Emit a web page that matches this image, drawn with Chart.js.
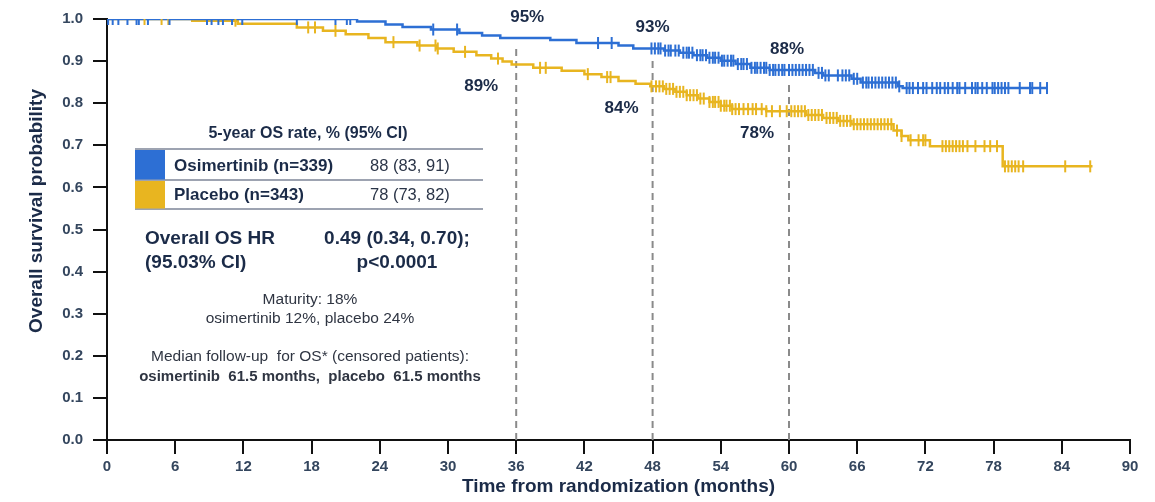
<!DOCTYPE html>
<html>
<head>
<meta charset="utf-8">
<script src="https://cdn.jsdelivr.net/npm/chart.js@4.4.1/dist/chart.umd.min.js"></script>
<style>
  html, body { margin: 0; padding: 0; background: #fff; }
  #wrap { width: 1155px; height: 502px; position: relative; }
</style>
</head>
<body>
<div id="wrap"><canvas id="km"></canvas></div>
<script>
// Kaplan-Meier steps (months, survival)
const osiTimes = [0, 22.0, 24.5, 26.0, 28.5, 31.0, 33.0, 34.6, 39.0, 41.3, 45.0, 46.3, 49.0, 50.4, 51.6, 52.8, 54.0, 55.3, 56.6, 58.3, 62.3, 63.0, 65.5, 66.3, 69.6, 70.0, 82.7];
const osiSurv  = [1.0, 0.994, 0.987, 0.981, 0.975, 0.967, 0.961, 0.955, 0.950, 0.943, 0.937, 0.930, 0.925, 0.920, 0.914, 0.908, 0.901, 0.893, 0.884, 0.879, 0.872, 0.866, 0.858, 0.849, 0.840, 0.836, 0.836];

const pboTimes = [0, 7.5, 11.5, 16.7, 19.0, 21.0, 23.0, 24.5, 27.3, 29.0, 30.5, 32.5, 33.8, 34.8, 35.6, 37.5, 40.0, 42.0, 43.5, 45.0, 46.5, 47.8, 49.0, 50.0, 51.0, 52.0, 53.0, 54.0, 55.0, 58.0, 61.5, 63.0, 64.3, 65.5, 69.2, 69.9, 70.5, 72.4, 78.8, 86.7];
const pboSurv  = [1.0, 0.996, 0.989, 0.980, 0.972, 0.964, 0.955, 0.945, 0.937, 0.930, 0.922, 0.914, 0.906, 0.899, 0.892, 0.884, 0.877, 0.869, 0.862, 0.853, 0.846, 0.840, 0.834, 0.827, 0.819, 0.811, 0.803, 0.794, 0.786, 0.781, 0.772, 0.765, 0.758, 0.750, 0.735, 0.722, 0.712, 0.698, 0.650, 0.650];

// censoring times (months)
const osiCensor = [0.1, 0.5, 1.0, 1.8, 2.6, 2.8, 3.6, 5.5, 8.8, 9.2, 9.8, 10.2, 11.0, 11.9, 16.7, 20.1, 21.1, 21.4, 28.7, 30.8, 43.2, 44.4, 47.9,
  48.2, 48.5, 48.7, 49.1, 49.4, 49.6, 50.0, 50.3, 50.7, 51.0, 51.2, 51.5, 51.9, 52.2, 52.4, 52.7, 53.0, 53.3, 53.5, 53.8, 54.1, 54.3, 54.6, 54.9,
  55.1, 55.5, 55.8, 56.0, 56.3, 56.7, 57.0, 57.2, 57.5, 57.8, 58.0, 58.3, 58.6, 58.8, 59.1, 59.4, 59.6, 60.0, 60.3, 60.6, 60.9, 61.2, 61.5, 61.8,
  62.1, 62.6, 62.9, 63.2, 63.5, 64.3, 64.7, 65.0, 65.3, 65.7, 66.0, 66.5, 66.8, 67.0, 67.3, 67.6, 67.9, 68.2, 68.5, 68.8, 69.1, 69.4, 69.7,
  70.35, 70.6, 70.9, 71.35, 71.8, 72.1, 72.6, 73.0, 73.3, 73.7, 74.0, 74.4, 74.8, 75.0, 75.5, 76.1, 76.4, 76.6, 77.0, 77.4, 77.9, 78.1, 78.4,
  78.7, 79.0, 79.3, 80.3, 81.2, 81.4, 82.1, 82.7];
const pboCensor = [3.3, 4.8, 5.4, 11.3, 17.7, 18.3, 20.1, 25.2, 27.5, 28.9, 29.1, 31.5, 34.4, 38.1, 38.6, 42.3, 44.0, 44.3, 47.9,
  48.3, 48.6, 48.9, 49.2, 49.5, 49.8, 50.1, 50.4, 50.7, 51.0, 51.3, 51.6, 51.9, 52.2, 52.5, 53.0, 53.3, 53.5, 53.8, 54.0, 54.3, 54.5, 54.8, 55.0,
  55.3, 55.6, 56.0, 56.4, 56.8, 57.1, 57.6, 58.0, 58.5, 59.2, 59.8, 60.2, 60.5, 60.8, 61.1, 61.4, 61.7, 62.0, 62.3, 62.6, 62.9, 63.3, 63.6, 63.9,
  64.2, 64.5, 64.8, 65.1, 65.4, 65.7, 66.0, 66.3, 66.6, 66.9, 67.2, 67.5, 67.8, 68.1, 68.4, 68.7, 69.0, 69.5, 69.9, 70.7, 71.4, 71.8, 72.0,
  73.5, 73.8, 74.1, 74.4, 74.7, 75.0, 75.3, 75.7, 76.4, 77.2, 77.7, 78.3, 79.0, 79.3, 79.6, 79.9, 80.2, 80.6, 84.3, 86.5];

const landmarkMonths = [36, 48, 60];
const landmarkTops = [0.935, 0.905, 0.855];
const osiRates = ['95%', '93%', '88%'];
const pboRates = ['89%', '84%', '78%'];
const xTicks = [0, 6, 12, 18, 24, 30, 36, 42, 48, 54, 60, 66, 72, 78, 84, 90];

const osiColor = 'rgb(45, 111, 212)';
const pboColor = 'rgb(232, 181, 32)';
const navy = '#1b2b48';
const FONT = '"Liberation Sans", Arial, sans-serif';

function steps(times, surv) {
  return times.map((t, i) => ({ x: t, y: surv[i] }));
}
function survAt(times, surv, t) {
  let v = surv[0];
  for (let i = 0; i < times.length; i++) {
    if (times[i] <= t) v = surv[i]; else break;
  }
  return v;
}
function censorPoints(cens, times, surv) {
  return cens.map(t => ({ x: t, y: survAt(times, surv, t) }));
}

const landmarkSets = landmarkMonths.map((m, i) => ({
  data: [{ x: m, y: 0 }, { x: m, y: landmarkTops[i] }],
  borderColor: '#8a8a8a',
  borderWidth: 2,
  borderDash: [7, 5],
  pointRadius: 0,
  order: 5
}));

const panel = {
  id: 'panel',
  afterDatasetsDraw(chart) {
    const { ctx } = chart;
    const xs = chart.scales.x, ys = chart.scales.y;
    ctx.save();
    ctx.textAlign = 'center';
    ctx.textBaseline = 'middle';
    ctx.fillStyle = navy;

    // y axis title, sits a little above the middle of the axis
    ctx.save();
    ctx.translate(37, 211);
    ctx.rotate(-Math.PI / 2);
    ctx.font = 'bold 19px ' + FONT;
    ctx.fillText('Overall survival probability', 0, 0);
    ctx.restore();

    ctx.font = 'bold 17px ' + FONT;
    const osiDx = [11, 0, -2], pboDx = [-35, -31, -32];
    landmarkMonths.forEach((m, i) => {
      const px = xs.getPixelForValue(m);
      ctx.fillText(osiRates[i], px + osiDx[i], ys.getPixelForValue(survAt(osiTimes, osiSurv, m)) - 21);
      ctx.fillText(pboRates[i], px + pboDx[i], ys.getPixelForValue(survAt(pboTimes, pboSurv, m)) + 22);
    });

    // summary table
    ctx.font = 'bold 16px ' + FONT;
    ctx.fillText('5-year OS rate, % (95% CI)', 308, 134);
    ctx.strokeStyle = '#7d8597';
    ctx.lineWidth = 1.5;
    [149, 180, 209].forEach(y => {
      ctx.beginPath(); ctx.moveTo(135, y); ctx.lineTo(483, y); ctx.stroke();
    });
    ctx.fillStyle = osiColor; ctx.fillRect(135, 150, 30, 29.5);
    ctx.fillStyle = pboColor; ctx.fillRect(135, 181, 30, 27.5);
    ctx.fillStyle = navy;
    ctx.textAlign = 'left';
    ctx.font = 'bold 17px ' + FONT;
    ctx.fillText('Osimertinib (n=339)', 174, 166);
    ctx.fillText('Placebo (n=343)', 174, 195);
    ctx.font = '16.5px ' + FONT;
    ctx.fillStyle = '#2a3447';
    ctx.fillText('88 (83, 91)', 370, 166);
    ctx.fillText('78 (73, 82)', 370, 195);

    ctx.fillStyle = navy;
    ctx.font = 'bold 19px ' + FONT;
    ctx.fillText('Overall OS HR', 145, 239);
    ctx.fillText('(95.03% CI)', 145, 263);
    ctx.textAlign = 'center';
    ctx.fillText('0.49 (0.34, 0.70);', 397, 239);
    ctx.fillText('p<0.0001', 397, 263);

    ctx.fillStyle = '#2f3542';
    ctx.font = '15.5px ' + FONT;
    ctx.fillText('Maturity: 18%', 310, 300);
    ctx.fillText('osimertinib 12%, placebo 24%', 310, 319);
    ctx.fillText('Median follow-up  for OS* (censored patients):', 310, 357);
    ctx.font = 'bold 15px ' + FONT;
    ctx.fillText('osimertinib  61.5 months,  placebo  61.5 months', 310, 377);
    ctx.restore();
  }
};

new Chart(document.getElementById('km'), {
  type: 'line',
  data: {
    datasets: [
      ...landmarkSets,
      {
        label: 'Osimertinib',
        data: steps(osiTimes, osiSurv),
        stepped: true,
        borderColor: osiColor,
        borderWidth: 2.5,
        pointRadius: 0,
        order: 2
      },
      {
        label: 'Placebo',
        data: steps(pboTimes, pboSurv),
        stepped: true,
        borderColor: pboColor,
        borderWidth: 2.5,
        pointRadius: 0,
        order: 3
      },
      {
        label: 'Osimertinib censored',
        data: censorPoints(osiCensor, osiTimes, osiSurv),
        showLine: false,
        pointStyle: 'line',
        pointRotation: 90,
        pointRadius: 6,
        borderColor: osiColor,
        pointBorderWidth: 2,
        order: 0
      },
      {
        label: 'Placebo censored',
        data: censorPoints(pboCensor, pboTimes, pboSurv),
        showLine: false,
        pointStyle: 'line',
        pointRotation: 90,
        pointRadius: 6,
        borderColor: pboColor,
        pointBorderWidth: 2,
        order: 1
      }
    ]
  },
  options: {
    responsive: true,
    maintainAspectRatio: false,
    animation: false,
    layout: { padding: { top: 16, right: 25, left: 0, bottom: 0 } },
    plugins: { legend: { display: false }, tooltip: { enabled: false } },
    scales: {
      x: {
        type: 'linear',
        min: 0,
        max: 90,
        afterFit: s => { s.height = 62; },
        afterBuildTicks: s => { s.ticks = xTicks.map(v => ({ value: v })); },
        ticks: { font: { family: FONT, size: 15, weight: 'bold' }, color: '#34465e', padding: 4 },
        grid: { drawOnChartArea: false, tickLength: 14, color: '#111', lineWidth: 2 },
        border: { color: '#111', width: 2 },
        title: {
          display: true,
          text: 'Time from randomization (months)',
          font: { family: FONT, size: 19, weight: 'bold' },
          color: navy,
          padding: { top: 0, bottom: 3.5 }
        }
      },
      y: {
        min: 0,
        max: 1,
        afterFit: s => { s.width = 107; },
        ticks: {
          stepSize: 0.1,
          callback: v => v.toFixed(1),
          font: { family: FONT, size: 15, weight: 'bold' },
          color: '#34465e',
          padding: 10
        },
        grid: { drawOnChartArea: false, tickLength: 14, color: '#111', lineWidth: 2 },
        border: { color: '#111', width: 2 },
        title: { display: false }
      }
    }
  },
  plugins: [panel]
});
</script>
</body>
</html>
